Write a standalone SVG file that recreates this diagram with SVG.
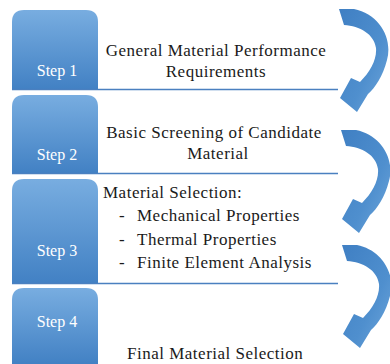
<svg xmlns="http://www.w3.org/2000/svg" width="390" height="364" viewBox="0 0 390 364">
<defs>
<linearGradient id="boxg" x1="0" y1="0" x2="0" y2="1">
<stop offset="0" stop-color="#78ade0"/>
<stop offset="1" stop-color="#4281c4"/>
</linearGradient>
<linearGradient id="arrg" x1="0" y1="0" x2="1" y2="1">
<stop offset="0" stop-color="#3f7fc3"/>
<stop offset="0.6" stop-color="#4f8fce"/>
<stop offset="1" stop-color="#6ea6db"/>
</linearGradient>
<path id="carrow" d="M 0 0 L 15 0 C 40 5 54 29 48 51 C 44 67 36 79 29 85 L 18 103 L 1 89 L 12 69 L 21 73 C 31 63 38 51 37 39 C 35 25 21 17 5 16 Z"/>
</defs>
<style>
.box{fill:url(#boxg)}
.sep{stroke:#4a80c0;stroke-width:1.5;fill:none}
.step{font-size:16px;fill:#ffffff;text-anchor:middle}
.t{font-size:17px;fill:#1a1a1a;letter-spacing:0.5px}
.c{text-anchor:middle}
.arr{fill:url(#arrg)}
</style>
<g id="step1">
<path class="box" d="M12 89 V22 Q12 10 24 10 H86 Q98 10 98 22 V89 Z"/>
<text class="step" font-family="Liberation Serif, Times New Roman, serif" x="57" y="76">Step 1</text>
<text class="t c" font-family="Liberation Serif, Times New Roman, serif" x="216" y="56">General Material Performance</text>
<text class="t c" font-family="Liberation Serif, Times New Roman, serif" x="216" y="77">Requirements</text>
</g>
<g id="step2">
<path class="box" d="M12 173 V107 Q12 95 24 95 H86 Q98 95 98 107 V173 Z"/>
<text class="step" font-family="Liberation Serif, Times New Roman, serif" x="57" y="160">Step 2</text>
<text class="t c" font-family="Liberation Serif, Times New Roman, serif" x="214" y="138">Basic Screening of Candidate</text>
<text class="t c" font-family="Liberation Serif, Times New Roman, serif" x="218" y="159">Material</text>
</g>
<g id="step3">
<path class="box" d="M12 283 V191 Q12 179 24 179 H86 Q98 179 98 191 V283 Z"/>
<text class="step" font-family="Liberation Serif, Times New Roman, serif" x="57" y="256">Step 3</text>
<text class="t" font-family="Liberation Serif, Times New Roman, serif" x="103" y="198">Material Selection:</text>
<text class="t" font-family="Liberation Serif, Times New Roman, serif" x="119" y="221">-</text>
<text class="t" font-family="Liberation Serif, Times New Roman, serif" x="137" y="221">Mechanical Properties</text>
<text class="t" font-family="Liberation Serif, Times New Roman, serif" x="119" y="245">-</text>
<text class="t" font-family="Liberation Serif, Times New Roman, serif" x="137" y="245">Thermal Properties</text>
<text class="t" font-family="Liberation Serif, Times New Roman, serif" x="119" y="268">-</text>
<text class="t" font-family="Liberation Serif, Times New Roman, serif" x="137" y="268">Finite Element Analysis</text>
</g>
<g id="step4">
<path class="box" d="M12 364 V300 Q12 288 24 288 H86 Q98 288 98 300 V364 Z"/>
<text class="step" font-family="Liberation Serif, Times New Roman, serif" x="57" y="327">Step 4</text>
<text class="t" font-family="Liberation Serif, Times New Roman, serif" x="127" y="359">Final Material Selection</text>
</g>
<g id="connectors">
<line class="sep" x1="12" y1="89.5" x2="338" y2="89.5"/>
<line class="sep" x1="12" y1="173.5" x2="338" y2="173.5"/>
<line class="sep" x1="12" y1="283.5" x2="338" y2="283.5"/>
<use href="#carrow" class="arr" x="339" y="9"/>
<use href="#carrow" class="arr" x="341" y="130"/>
<use href="#carrow" class="arr" x="342" y="245"/>
</g>
</svg>
